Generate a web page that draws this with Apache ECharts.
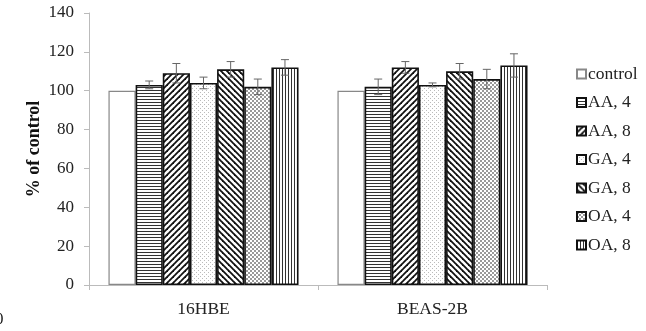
<!DOCTYPE html>
<html>
<head>
<meta charset="utf-8">
<script src="https://cdn.jsdelivr.net/npm/echarts@6/dist/echarts.min.js"></script>
<style>html,body{margin:0;padding:0;background:#fff;}#c{width:646px;height:331px;}</style>
</head>
<body>
<div id="c"></div>
<script>
const categories = ['16HBE', 'BEAS-2B'];
const seriesNames = ['control', 'AA, 4', 'AA, 8', 'GA, 4', 'GA, 8', 'OA, 4', 'OA, 8'];
const control = [100, 100];
const aa4 = [103, 102];
const aa8 = [109, 112];
const ga4 = [104, 103];
const ga8 = [111, 110];
const oa4 = [102, 106];
const oa8 = [112, 113];
const errControl = [0, 0];
const errAa4 = [2, 4];
const errAa8 = [5, 3];
const errGa4 = [3, 1];
const errGa8 = [4, 4];
const errOa4 = [4, 5];
const errOa8 = [4, 6];
const yTicks = [0, 20, 40, 60, 80, 100, 120, 140];

const values = [control, aa4, aa8, ga4, ga8, oa4, oa8];
const errors = [errControl, errAa4, errAa8, errGa4, errGa8, errOa4, errOa8];

function makePattern(w, h, draw) {
  const c = document.createElement('canvas');
  c.width = w; c.height = h;
  const ctx = c.getContext('2d');
  ctx.fillStyle = '#fff';
  ctx.fillRect(0, 0, w, h);
  draw(ctx, w, h);
  return { image: c, repeat: 'repeat' };
}
const patterns = [
  '#ffffff',
  makePattern(1, 3, (ctx) => { ctx.fillStyle = '#333'; ctx.fillRect(0, 0, 1, 1); }),
  makePattern(6, 6, (ctx) => {
    ctx.strokeStyle = '#111'; ctx.lineWidth = 1.8;
    for (let k = -1; k <= 1; k++) { ctx.beginPath(); ctx.moveTo(-1 + k * 6, 7); ctx.lineTo(7 + k * 6, -1); ctx.stroke(); }
  }),
  makePattern(4, 4, (ctx) => { ctx.fillStyle = '#bbb'; ctx.fillRect(0, 0, 1, 1); ctx.fillRect(2, 2, 1, 1); }),
  makePattern(6, 6, (ctx) => {
    ctx.strokeStyle = '#111'; ctx.lineWidth = 1.8;
    for (let k = -1; k <= 1; k++) { ctx.beginPath(); ctx.moveTo(-1 + k * 6, -1); ctx.lineTo(7 + k * 6, 7); ctx.stroke(); }
  }),
  makePattern(4, 4, (ctx) => { ctx.fillStyle = '#999'; ctx.fillRect(0, 0, 2, 2); ctx.fillRect(2, 2, 2, 2); }),
  makePattern(3, 1, (ctx) => { ctx.fillStyle = '#333'; ctx.fillRect(0, 0, 1, 1); })
];

const GAP = 0.17;
const barSeries = seriesNames.map((name, i) => ({
  name: name,
  type: 'bar',
  data: values[i],
  barGap: 0,
  barCategoryGap: (GAP * 100) + '%',
  itemStyle: {
    color: patterns[i],
    borderColor: i === 0 ? '#888' : '#111',
    borderWidth: i === 0 ? 1.2 : 1.6
  },
  emphasis: { disabled: true }
}));

const errData = [];
for (let s = 0; s < values.length; s++) {
  for (let c = 0; c < categories.length; c++) {
    if (errors[s][c] > 0) errData.push([c, s, values[s][c], errors[s][c]]);
  }
}

const errSeries = {
  type: 'custom',
  name: 'err',
  data: errData,
  encode: { x: 0, y: 2 },
  z: 10,
  renderItem: function (params, api) {
    const c = api.value(0), s = api.value(1), v = api.value(2), e = api.value(3);
    const catW = api.size([1, 0])[0];
    const bw = catW * (1 - GAP) / seriesNames.length;
    const p = api.coord([c, v]);
    const x = p[0] + (s - (seriesNames.length - 1) / 2) * bw;
    const yTop = api.coord([c, v + e])[1];
    const yBot = api.coord([c, v - e])[1];
    const cap = 4;
    const st = { stroke: '#666', lineWidth: 1 };
    return {
      type: 'group',
      children: [
        { type: 'line', shape: { x1: x, y1: yTop, x2: x, y2: yBot }, style: st },
        { type: 'line', shape: { x1: x - cap, y1: yTop, x2: x + cap, y2: yTop }, style: st },
        { type: 'line', shape: { x1: x - cap, y1: yBot, x2: x + cap, y2: yBot }, style: st }
      ]
    };
  }
};

const chart = echarts.init(document.getElementById('c'));
chart.setOption({
  animation: false,
  backgroundColor: '#fff',
  textStyle: { fontFamily: 'Liberation Serif' },
  grid: { left: 89, right: 99, top: 13, bottom: 46 },
  legend: {
    data: seriesNames,
    orient: 'vertical',
    left: 571,
    top: 60,
    itemWidth: 9,
    itemHeight: 9,
    itemGap: 10.5,
    icon: 'rect',
    textStyle: { fontFamily: 'Liberation Serif', fontSize: 17.5, color: '#222', padding: [0, 0, 0, -3], lineHeight: 18 },
    selectedMode: false
  },
  xAxis: {
    type: 'category',
    data: categories,
    axisLine: { lineStyle: { color: '#bbb', width: 1 } },
    axisTick: { show: true, length: 5, lineStyle: { color: '#bbb' } },
    axisLabel: { fontFamily: 'Liberation Serif', fontSize: 17.5, color: '#222', margin: 15 }
  },
  yAxis: {
    type: 'value',
    min: 0, max: 140, interval: 20,
    name: '% of control',
    nameLocation: 'middle',
    nameGap: 46,
    nameMoveOverlap: false,
    nameTextStyle: { fontFamily: 'Liberation Serif', fontSize: 18, fontWeight: 'bold', color: '#111' },
    axisLine: { show: true, lineStyle: { color: '#bbb', width: 1 } },
    axisTick: { show: true, length: 5, lineStyle: { color: '#bbb' } },
    splitLine: { show: false },
    axisLabel: {
      fontFamily: 'Liberation Serif', fontSize: 17, color: '#222', margin: 15,
      formatter: function (v) { return yTicks.indexOf(v) >= 0 ? String(v) : ''; }
    }
  },
  series: barSeries.concat([errSeries]),
  graphic: [{ type: 'text', left: -5, top: 311, style: { text: '0', font: '17px "Liberation Serif"', fill: '#222' } }]
});
</script>
</body>
</html>
